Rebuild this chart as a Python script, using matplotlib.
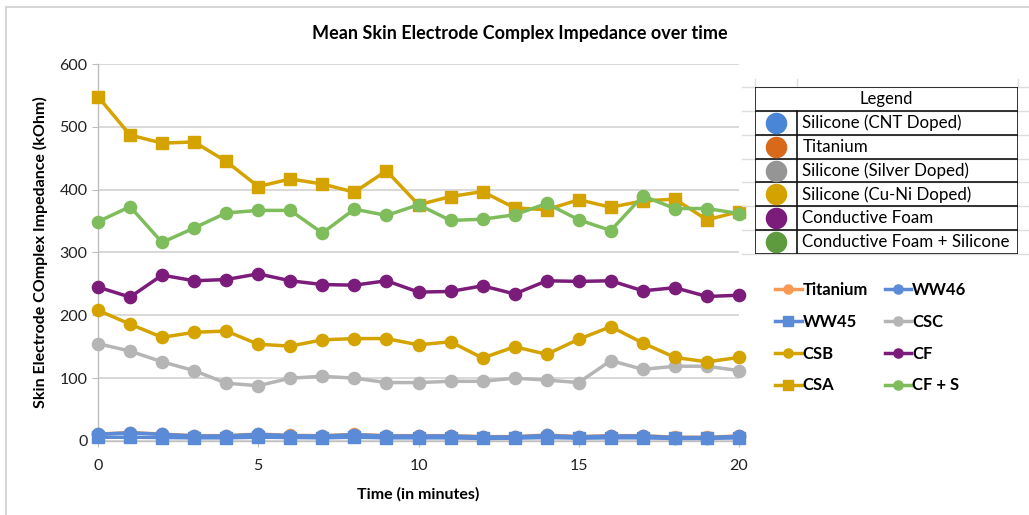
import numpy as np
import matplotlib.pyplot as plt
from matplotlib.patches import Rectangle

plt.rcParams['font.family'] = ['Lato', 'DejaVu Sans']

# data
minutes = list(range(21))
titanium = [11, 13.5, 11, 8.5, 8.5, 11, 9, 8.5, 10.5, 8.5, 8.5, 8.5, 7, 7, 9.5, 7, 8.5, 8.5, 6, 6, 8]
ww46 = [10.6, 13, 10.6, 8, 8, 10.6, 8.5, 8, 10, 8, 8, 8, 6.5, 6.5, 9, 6.5, 8, 8, 5.5, 5.5, 7.5]
ww45 = [6, 6, 5.5, 5, 5, 6, 5.5, 5, 6, 5, 5, 5, 4, 4.5, 5.5, 4.5, 5, 5, 4, 4, 5]
csc = [155, 143, 126, 112, 92, 88, 100, 103, 100, 93, 93, 95, 95, 100, 97, 93, 128, 114, 119, 119, 112]
csb = [208, 186, 165, 173, 175, 154, 151, 161, 163, 163, 153, 158, 132, 150, 138, 162, 182, 156, 133, 126, 133]
cf = [245, 229, 264, 255, 257, 266, 255, 249, 248, 255, 237, 238, 247, 234, 255, 254, 255, 239, 244, 230, 232]
csa = [548, 487, 474, 476, 445, 405, 417, 409, 396, 430, 376, 389, 397, 371, 368, 384, 372, 382, 385, 352, 365]
cfs = [349, 373, 316, 339, 363, 367, 367, 331, 369, 359, 376, 351, 353, 360, 378, 352, 335, 390, 370, 370, 362]

series_names = ['Titanium', 'WW46', 'WW45', 'CSC', 'CSB', 'CF', 'CSA', 'CF + S']
series_vals = [titanium, ww46, ww45, csc, csb, cf, csa, cfs]
series_cols = ['#F79A55', '#5B8BD6', '#5B8BD6', '#B5B5B5', '#D4A300', '#7B1C7B', '#D4A300', '#7EBC5C']
series_mk = ['o', 'o', 's', 'o', 'o', 'o', 's', 'o']

table_labels = ['Silicone (CNT Doped)', 'Titanium', 'Silicone (Silver Doped)',
                'Silicone (Cu-Ni Doped)', 'Conductive Foam', 'Conductive Foam + Silicone']
table_cols = ['#4A86D8', '#D8691A', '#959595', '#D4A300', '#7B1C7B', '#5E9A3E']

W, H = 1029, 515
fig = plt.figure(figsize=(W / 100, H / 100), dpi=100)

# outer chart frame (cut off on the right and bottom)
fig.patches.append(Rectangle((6 / W, -0.1), 1.2, 1 - 7 / H + 0.1, transform=fig.transFigure,
                             fill=False, edgecolor='#D0D0D0', lw=1.2))

ax = fig.add_axes([98 / W, 1 - 441 / H, 641 / W, 377 / H])
handles = {}
for name, vals, col, mk in zip(series_names, series_vals, series_cols, series_mk):
    h, = ax.plot(minutes, vals, color=col, lw=2.5, marker=mk, markersize=8.8,
                 markeredgecolor=col, clip_on=False, zorder=3)
    handles[name] = h

ax.set_xlim(0, 20)
ax.set_ylim(0, 600)
ax.set_xticks([0, 5, 10, 15, 20])
ax.set_yticks(range(0, 601, 100))
ax.grid(axis='y', color='#D6D6D6', lw=1.3)
ax.set_axisbelow(True)
for s in ['top', 'right']:
    ax.spines[s].set_visible(False)
for s in ['left', 'bottom']:
    ax.spines[s].set_color('#BDBDBD')
    ax.spines[s].set_linewidth(1.0)
ax.tick_params(axis='both', colors='#BDBDBD', labelcolor='#222222', labelsize=11.5, length=4)
ax.tick_params(axis='x', pad=9)

ax.set_xlabel('Time (in minutes)', fontsize=11.5, fontweight='bold', labelpad=10)
ax.set_ylabel('Skin Electrode COmplex Impedance (kOhm)', fontsize=11.5, fontweight='bold', labelpad=8)
fig.text(0.505, 1 - 34 / H, 'Mean Skin Electrode Complex Impedance over time',
         ha='center', va='center', fontsize=13, fontweight='bold')

# series legend, row-wise order like the reference
order = ['Titanium', 'WW45', 'CSB', 'CSA', 'WW46', 'CSC', 'CF', 'CF + S']
leg = fig.legend([handles[k] for k in order], order, loc='upper left',
                 bbox_to_anchor=(760 / W, 1 - 267 / H), ncol=2, frameon=False,
                 handlelength=1.6, handletextpad=0.05, columnspacing=1.0,
                 labelspacing=0.95, markerscale=0.75,
                 prop={'weight': 'bold', 'size': 12})

# table-style legend on the right
tx0, tx1, ty0, ty1 = 755, 1018, 87, 254
tab = fig.add_axes([tx0 / W, 1 - ty1 / H, (tx1 - tx0) / W, (ty1 - ty0) / H])
tab.set_xlim(0, 1)
tab.set_ylim(0, 7)
tab.axis('off')
div = (797 - tx0) / (tx1 - tx0)
for r in range(8):
    tab.plot([-0.05, 1.04], [r, r], color='#DDDDDD', lw=1, clip_on=False, zorder=1)
for xv in [0, div, 1]:
    tab.plot([xv, xv], [7, 7.35], color='#DDDDDD', lw=1, clip_on=False)
tab.add_patch(Rectangle((0, 0), 1, 7, fill=False, edgecolor='#111111', lw=1.2, zorder=3))
for r in range(1, 7):
    tab.plot([0, 1], [r, r], color='#111111', lw=1.2, zorder=3)
tab.plot([div, div], [0, 6], color='#111111', lw=1.2, zorder=3)
tab.text(0.5, 6.5, 'Legend', ha='center', va='center', fontsize=12)
for i, (lab, col) in enumerate(zip(table_labels, table_cols)):
    y = 5.5 - i
    tab.plot([div / 2], [y], marker='o', markersize=14.5, color=col, zorder=4)
    tab.text(div + 0.02, y, lab, ha='left', va='center', fontsize=12.2)

fig.savefig('out.png', dpi=100)
